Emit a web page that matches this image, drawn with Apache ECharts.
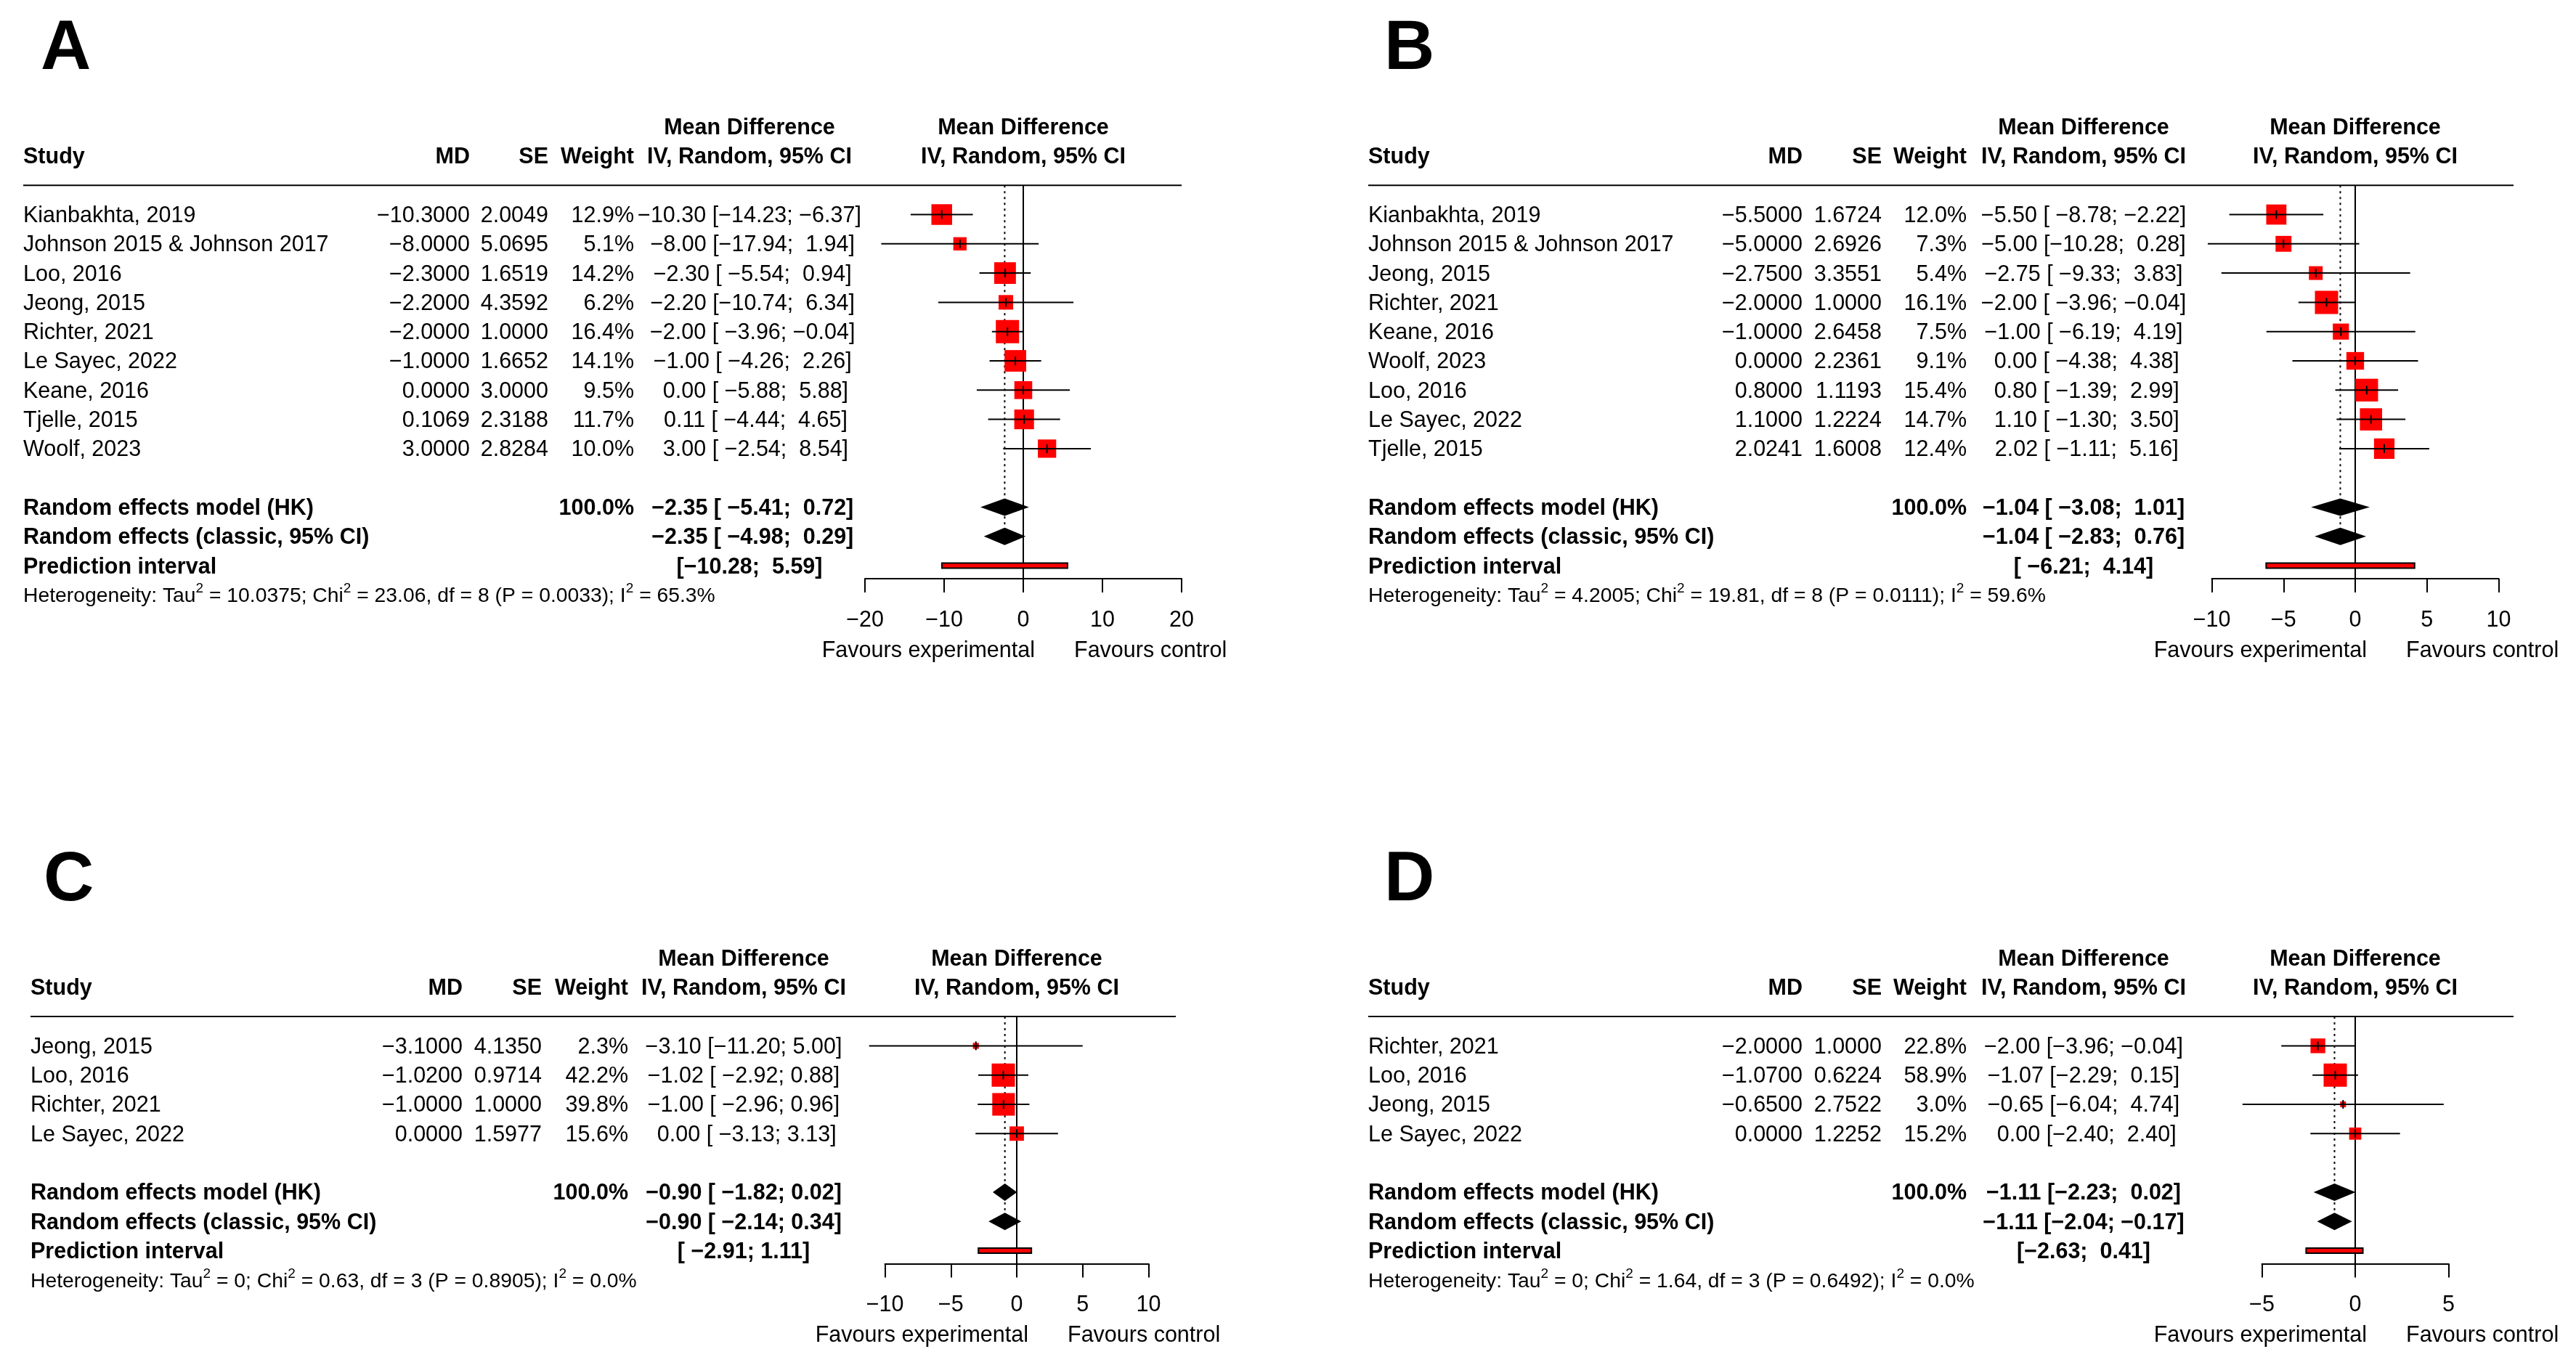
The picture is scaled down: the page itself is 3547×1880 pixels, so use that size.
<!DOCTYPE html>
<html>
<head>
<meta charset="utf-8">
<script src="https://cdn.jsdelivr.net/npm/echarts@6/dist/echarts.min.js"></script>
<style>
  html, body { margin: 0; padding: 0; background: #fff; }
  #chart { width: 3547px; height: 1880px; }
</style>
</head>
<body>
<div id="chart"></div>
<script>
// ---------- panel A ----------
const studiesA = ['Kianbakhta, 2019', 'Johnson 2015 & Johnson 2017', 'Loo, 2016', 'Jeong, 2015', 'Richter, 2021',
  'Le Sayec, 2022', 'Keane, 2016', 'Tjelle, 2015', 'Woolf, 2023']
const mdA = [-10.3, -8.0, -2.3, -2.2, -2.0, -1.0, 0.0, 0.1069, 3.0]
const seA = [2.0049, 5.0695, 1.6519, 4.3592, 1.0, 1.6652, 3.0, 2.3188, 2.8284]
const weightA = [12.9, 5.1, 14.2, 6.2, 16.4, 14.1, 9.5, 11.7, 10.0]
const lowerA = [-14.23, -17.94, -5.54, -10.74, -3.96, -4.26, -5.88, -4.44, -2.54]
const upperA = [-6.37, 1.94, 0.94, 6.34, -0.04, 2.26, 5.88, 4.65, 8.54]
const hkA = [-2.35, -5.41, 0.72]
const classicA = [-2.35, -4.98, 0.29]
const predA = [-10.28, 5.59]
const hetA = [10.0375, 23.06, 8, 0.0033, 65.3] // tau2, chi2, df, p, i2
const ticksA = [-20, -10, 0, 10, 20]

// ---------- panel B ----------
const studiesB = ['Kianbakhta, 2019', 'Johnson 2015 & Johnson 2017', 'Jeong, 2015', 'Richter, 2021', 'Keane, 2016',
  'Woolf, 2023', 'Loo, 2016', 'Le Sayec, 2022', 'Tjelle, 2015']
const mdB = [-5.5, -5.0, -2.75, -2.0, -1.0, 0.0, 0.8, 1.1, 2.0241]
const seB = [1.6724, 2.6926, 3.3551, 1.0, 2.6458, 2.2361, 1.1193, 1.2224, 1.6008]
const weightB = [12.0, 7.3, 5.4, 16.1, 7.5, 9.1, 15.4, 14.7, 12.4]
const lowerB = [-8.78, -10.28, -9.33, -3.96, -6.19, -4.38, -1.39, -1.30, -1.11]
const upperB = [-2.22, 0.28, 3.83, -0.04, 4.19, 4.38, 2.99, 3.50, 5.16]
const hkB = [-1.04, -3.08, 1.01]
const classicB = [-1.04, -2.83, 0.76]
const predB = [-6.21, 4.14]
const hetB = [4.2005, 19.81, 8, 0.0111, 59.6]
const ticksB = [-10, -5, 0, 5, 10]

// ---------- panel C ----------
const studiesC = ['Jeong, 2015', 'Loo, 2016', 'Richter, 2021', 'Le Sayec, 2022']
const mdC = [-3.1, -1.02, -1.0, 0.0]
const seC = [4.135, 0.9714, 1.0, 1.5977]
const weightC = [2.3, 42.2, 39.8, 15.6]
const lowerC = [-11.20, -2.92, -2.96, -3.13]
const upperC = [5.00, 0.88, 0.96, 3.13]
const hkC = [-0.90, -1.82, 0.02]
const classicC = [-0.90, -2.14, 0.34]
const predC = [-2.91, 1.11]
const hetC = [0, 0.63, 3, 0.8905, 0.0]
const ticksC = [-10, -5, 0, 5, 10]

// ---------- panel D ----------
const studiesD = ['Richter, 2021', 'Loo, 2016', 'Jeong, 2015', 'Le Sayec, 2022']
const mdD = [-2.0, -1.07, -0.65, 0.0]
const seD = [1.0, 0.6224, 2.7522, 1.2252]
const weightD = [22.8, 58.9, 3.0, 15.2]
const lowerD = [-3.96, -2.29, -6.04, -2.40]
const upperD = [-0.04, 0.15, 4.74, 2.40]
const hkD = [-1.11, -2.23, 0.02]
const classicD = [-1.11, -2.04, -0.17]
const predD = [-2.63, 0.41]
const hetD = [0, 1.64, 3, 0.6492, 0.0]
const ticksD = [-5, 0, 5]

// 版面参数（像素）
const FONT = "'Liberation Sans', Arial, Helvetica, sans-serif"
const FS = 30.5 // 正文字号
const ROW = 40.3 // 行高
const SQ = 31 // 最大权重方块边长
const TXT_DY = 2 // 文字基线微调

const panels = [
  { label: 'A', lx: 56, ly: 59, T: 174.6, studyX: 32, mdR: 647, seR: 755, wR: 873, ciC: 1032, zero: 1409, half: 218, ppu: 10.9,
    studies: studiesA, md: mdA, se: seA, w: weightA, lo: lowerA, hi: upperA, hk: hkA, cl: classicA, pr: predA, het: hetA, ticks: ticksA },
  { label: 'B', lx: 1906, ly: 59, T: 174.6, studyX: 1884, mdR: 2482, seR: 2591, wR: 2708, ciC: 2869, zero: 3243, half: 218, ppu: 19.75,
    studies: studiesB, md: mdB, se: seB, w: weightB, lo: lowerB, hi: upperB, hk: hkB, cl: classicB, pr: predB, het: hetB, ticks: ticksB },
  { label: 'C', lx: 60, ly: 1204, T: 1319.5, studyX: 42, mdR: 637, seR: 746, wR: 865, ciC: 1024, zero: 1400, half: 219, ppu: 18.15,
    studies: studiesC, md: mdC, se: seC, w: weightC, lo: lowerC, hi: upperC, hk: hkC, cl: classicC, pr: predC, het: hetC, ticks: ticksC },
  { label: 'D', lx: 1906, ly: 1204, T: 1319.5, studyX: 1884, mdR: 2482, seR: 2591, wR: 2708, ciC: 2869, zero: 3243, half: 218, ppu: 25.7,
    studies: studiesD, md: mdD, se: seD, w: weightD, lo: lowerD, hi: upperD, hk: hkD, cl: classicD, pr: predD, het: hetD, ticks: ticksD }
]

const minus = s => s.replace('-', '\u2212')
const fx = (v, d) => minus(v.toFixed(d))
const padAll = arr => {
  const len = Math.max(...arr.map(s => s.length))
  return arr.map(s => s.padStart(len, ' '))
}

const grids = []
const xAxes = []
const yAxes = []
const series = []
const graphics = []

panels.forEach((p, k) => {
  const n = p.studies.length
  const hkRow = n + 4
  const clRow = n + 5
  const prRow = n + 6
  const hetRow = n + 7
  const axisRow = prRow + 18 / ROW
  const t0 = p.ticks[0]
  const t1 = p.ticks[p.ticks.length - 1]
  const wmax = Math.max(...p.w)

  grids.push({
    left: p.zero + t0 * p.ppu,
    width: (t1 - t0) * p.ppu,
    top: p.T + 2 * ROW,
    height: (n + 4) * ROW + 18,
    outerBoundsMode: 'none'
  })
  xAxes.push({
    gridIndex: k,
    type: 'value',
    min: t0,
    max: t1,
    interval: p.ticks[1] - p.ticks[0],
    axisLine: { show: true, onZero: false, lineStyle: { color: '#000', width: 2 } },
    axisTick: { show: true, inside: false, length: 19, lineStyle: { color: '#000', width: 2 } },
    axisLabel: { color: '#000', fontFamily: FONT, fontSize: FS, margin: 42, formatter: v => minus(String(v)) },
    splitLine: { show: false }
  })
  yAxes.push({ gridIndex: k, type: 'value', min: 2, max: axisRow, inverse: true, show: false })

  // 文字列格式（仿 meta 的补空格）
  const estS = padAll(p.md.map(v => fx(v, 2)).concat([fx(p.hk[0], 2), fx(p.cl[0], 2)]))
  const loS = padAll(p.lo.map(v => fx(v, 2)).concat([fx(p.hk[1], 2), fx(p.cl[1], 2), fx(p.pr[0], 2)]))
  const hiS = padAll(p.hi.map(v => fx(v, 2)).concat([fx(p.hk[2], 2), fx(p.cl[2], 2), fx(p.pr[1], 2)]))
  const ciText = (e, i) => (e === null ? '' : e + ' ') + '[' + loS[i] + '; ' + hiS[i] + ']'

  const txt = (t, x, align, bold) => ({ t, x, align, bold })
  const rows = []
  rows.push({ row: 0, items: [txt('Mean Difference', p.ciC, 'center', true), txt('Mean Difference', p.zero, 'center', true)] })
  rows.push({ row: 1, items: [
    txt('Study', p.studyX, 'left', true), txt('MD', p.mdR, 'right', true), txt('SE', p.seR, 'right', true),
    txt('Weight', p.wR, 'right', true), txt('IV, Random, 95% CI', p.ciC, 'center', true),
    txt('IV, Random, 95% CI', p.zero, 'center', true)
  ] })
  rows.push({ row: 2, items: [], line: true })
  p.studies.forEach((s, i) => {
    rows.push({ row: 3 + i, items: [
      txt(s, p.studyX, 'left', false), txt(fx(p.md[i], 4), p.mdR, 'right', false),
      txt(fx(p.se[i], 4), p.seR, 'right', false), txt(p.w[i].toFixed(1) + '%', p.wR, 'right', false),
      txt(ciText(estS[i], i), p.ciC, 'center', false)
    ] })
  })
  rows.push({ row: hkRow, items: [
    txt('Random effects model (HK)', p.studyX, 'left', true), txt('100.0%', p.wR, 'right', true),
    txt(ciText(estS[n], n), p.ciC, 'center', true)
  ] })
  rows.push({ row: clRow, items: [
    txt('Random effects (classic, 95% CI)', p.studyX, 'left', true),
    txt(ciText(estS[n + 1], n + 1), p.ciC, 'center', true)
  ] })
  rows.push({ row: prRow, items: [
    txt('Prediction interval', p.studyX, 'left', true), txt(ciText(null, n + 2), p.ciC, 'center', true)
  ] })
  const h = p.het
  const tau = h[0] === 0 ? '0' : h[0].toFixed(4)
  rows.push({ row: hetRow, items: [{
    t: 'Heterogeneity: Tau{s|2} = ' + tau + '; Chi{s|2} = ' + h[1].toFixed(2) + ', df = ' + h[2] +
      ' (P = ' + h[3].toFixed(4) + '); I{s|2} = ' + h[4].toFixed(1) + '%',
    x: p.studyX, align: 'left', bold: false, het: true
  }] })
  rows.push({ row: axisRow + 97 / ROW, items: [
    txt('Favours experimental', p.zero + 16, 'right', false), txt('Favours control', p.zero + 70, 'left', false)
  ] })

  // 参考线：0 实线，合并效应虚线
  series.push({
    type: 'custom', xAxisIndex: k, yAxisIndex: k, clip: false, silent: true, z: 1,
    data: [[0, 2, axisRow, 0], [p.hk[0], 2, clRow, 1]],
    renderItem: (params, api) => {
      const a = api.coord([api.value(0), api.value(1)])
      const b = api.coord([api.value(0), api.value(2)])
      const dotted = api.value(3) === 1
      return {
        type: 'line',
        shape: { x1: a[0], y1: a[1], x2: b[0], y2: b[1] + (dotted ? 12 : 0) },
        style: { stroke: '#000', lineWidth: 2, lineDash: dotted ? [3, 5] : null }
      }
    }
  })
  // 预测区间
  series.push({
    type: 'custom', xAxisIndex: k, yAxisIndex: k, clip: false, silent: true, z: 2,
    data: [[p.pr[0], p.pr[1], prRow]],
    renderItem: (params, api) => {
      const a = api.coord([api.value(0), api.value(2)])
      const b = api.coord([api.value(1), api.value(2)])
      return {
        type: 'rect',
        shape: { x: a[0], y: a[1] - 3.5, width: b[0] - a[0], height: 7 },
        style: { fill: '#ff0000', stroke: '#000', lineWidth: 2 }
      }
    }
  })
  // 菱形
  series.push({
    type: 'custom', xAxisIndex: k, yAxisIndex: k, clip: false, silent: true, z: 2,
    data: [[p.hk[0], hkRow, p.hk[1], p.hk[2]], [p.cl[0], clRow, p.cl[1], p.cl[2]]],
    renderItem: (params, api) => {
      const c = api.coord([api.value(0), api.value(1)])
      const lo = api.coord([api.value(2), api.value(1)])
      const hi = api.coord([api.value(3), api.value(1)])
      return {
        type: 'polygon',
        shape: { points: [[lo[0], c[1]], [c[0], c[1] - 12], [hi[0], c[1]], [c[0], c[1] + 12]] },
        style: { fill: '#000' }
      }
    }
  })
  // 各研究方块 + 置信区间
  series.push({
    type: 'custom', xAxisIndex: k, yAxisIndex: k, clip: false, silent: true, z: 3,
    data: p.studies.map((s, i) => [p.md[i], 3 + i, p.lo[i], p.hi[i], p.w[i]]),
    renderItem: (params, api) => {
      const c = api.coord([api.value(0), api.value(1)])
      const lo = api.coord([api.value(2), api.value(1)])
      const hi = api.coord([api.value(3), api.value(1)])
      const side = SQ * Math.sqrt(api.value(4) / wmax) + 1
      return {
        type: 'group',
        children: [
          { type: 'rect', shape: { x: c[0] - side / 2, y: c[1] - side / 2, width: side, height: side }, style: { fill: '#ff0000' } },
          { type: 'line', shape: { x1: lo[0], y1: c[1], x2: hi[0], y2: c[1] }, style: { stroke: '#000', lineWidth: 2 } },
          { type: 'line', shape: { x1: c[0], y1: c[1] - 6, x2: c[0], y2: c[1] + 6 }, style: { stroke: '#000', lineWidth: 2 } }
        ]
      }
    }
  })
  // 表格文字
  series.push({
    type: 'custom', xAxisIndex: k, yAxisIndex: k, clip: false, silent: true, z: 4,
    data: rows.map(r => [0, r.row]),
    renderItem: (params, api) => {
      const r = rows[params.dataIndex]
      const y = api.coord([0, api.value(1)])[1]
      const children = r.items.map(it => ({
        type: 'text',
        style: {
          text: it.t,
          x: it.x,
          y: y + TXT_DY,
          align: it.align,
          verticalAlign: 'middle',
          fill: '#000',
          fontFamily: FONT,
          fontSize: it.het ? 28.3 : FS,
          fontWeight: it.bold ? 'bold' : 'normal',
          lineHeight: it.het ? 40 : undefined,
          rich: it.het ? { s: { fontFamily: FONT, fontSize: 19, lineHeight: 19, verticalAlign: 'top', fill: '#000' } } : undefined
        }
      }))
      if (r.line) {
        children.push({
          type: 'line',
          shape: { x1: p.studyX, y1: y, x2: p.zero + p.half, y2: y },
          style: { stroke: '#000', lineWidth: 2 }
        })
      }
      return { type: 'group', children }
    }
  })

  graphics.push({
    type: 'text', left: p.lx, top: p.ly - 38,
    style: { text: p.label, fontFamily: FONT, fontSize: 96, fontWeight: 'bold', fill: '#000' }
  })
})

const myChart = echarts.init(document.getElementById('chart'), null, { renderer: 'canvas' })
myChart.setOption({
  backgroundColor: '#fff',
  animation: false,
  grid: grids,
  xAxis: xAxes,
  yAxis: yAxes,
  graphic: graphics,
  series
})
</script>
</body>
</html>
